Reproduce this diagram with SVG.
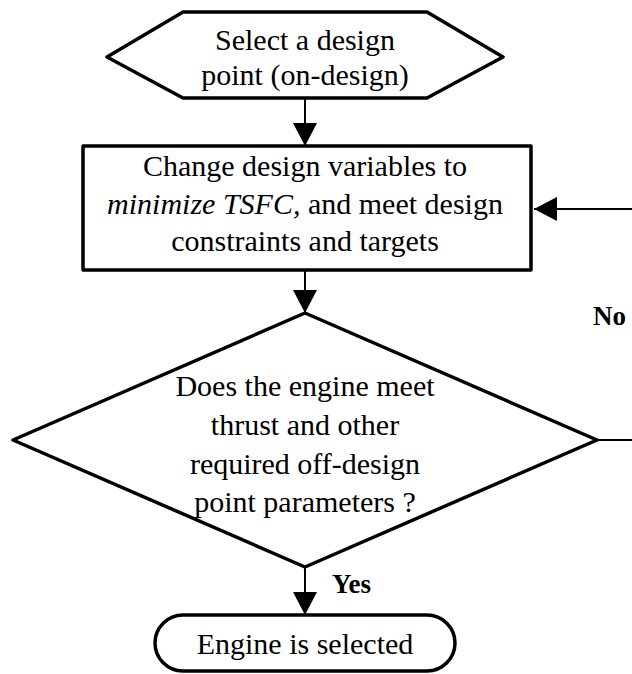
<svg xmlns="http://www.w3.org/2000/svg" width="632" height="674" viewBox="0 0 632 674">
<defs>
<style>
.shape{fill:#fff;stroke:#000;stroke-width:3.5;stroke-linejoin:round}
.conn{fill:none;stroke:#000;stroke-width:2}
.t{font-family:'Liberation Serif','Times New Roman',serif;font-size:30px;fill:#000;text-anchor:middle}
.lbl{font-family:'Liberation Serif','Times New Roman',serif;font-size:27px;font-weight:bold;fill:#000}
</style>
<marker id="ah" markerWidth="24" markerHeight="24" refX="23" refY="12" orient="auto" markerUnits="userSpaceOnUse">
<path d="M0,0 L23,12 L0,24 Z" fill="#000"/>
</marker>
</defs>
<rect width="632" height="674" fill="#fff"/>
<g id="connectors">
<line class="conn" x1="305" y1="98" x2="305" y2="146" marker-end="url(#ah)"/>
<line class="conn" x1="305" y1="271" x2="305" y2="313" marker-end="url(#ah)"/>
<line class="conn" x1="305" y1="567" x2="305" y2="615" marker-end="url(#ah)"/>
<path class="conn" d="M597,440 L645,440 L645,209 L534,209" marker-end="url(#ah)"/>
</g>
<g id="start">
<polygon class="shape" points="107,57 183,12 427,12 503,57 427,98 183,98"/>
<text class="t" x="305" y="50">Select a design</text>
<text class="t" x="305" y="85">point (on-design)</text>
</g>
<g id="change">
<rect class="shape" x="83" y="146" width="448" height="124"/>
<text class="t" x="305" y="176">Change design variables to</text>
<text class="t" x="305" y="214"><tspan font-style="italic">minimize TSFC,</tspan> and meet design</text>
<text class="t" x="305" y="251">constraints and targets</text>
</g>
<g id="decision">
<polygon class="shape" points="305,313 597,440 305,567 13,440"/>
<text class="t" x="305" y="396">Does the engine meet</text>
<text class="t" x="305" y="435">thrust and other</text>
<text class="t" x="305" y="474">required off-design</text>
<text class="t" x="305" y="512">point parameters ?</text>
</g>
<g id="end">
<rect class="shape" x="155" y="615" width="300" height="56" rx="28" ry="28"/>
<text class="t" x="305" y="654">Engine is selected</text>
</g>
<g id="labels">
<text class="lbl" x="332" y="593">Yes</text>
<text class="lbl" x="593" y="325">No</text>
</g>
</svg>
